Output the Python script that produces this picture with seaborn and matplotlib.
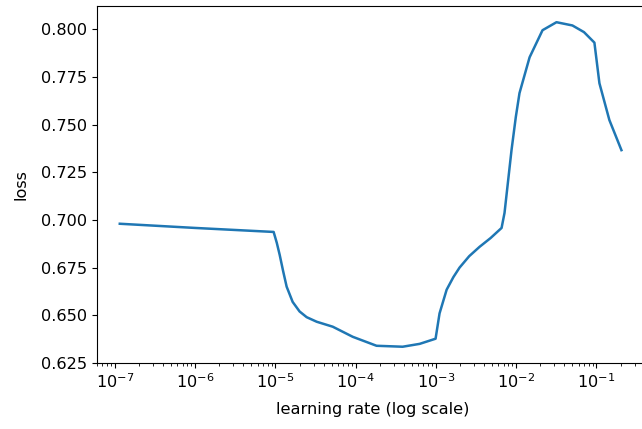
import numpy as np
import pandas as pd
import seaborn as sns
import matplotlib.pyplot as plt

# learning rate finder result
lr = [1.15e-7, 1.0e-6, 9.5e-6, 1.04e-5, 1.13e-5, 1.25e-5, 1.38e-5, 1.64e-5,
      2.0e-5, 2.45e-5, 3.27e-5, 5.18e-5, 9.2e-5, 1.82e-4, 3.85e-4, 6.27e-4,
      9.9e-4, 1.11e-3, 1.36e-3, 1.65e-3, 1.97e-3, 2.6e-3, 3.5e-3, 4.8e-3,
      6.58e-3, 7.16e-3, 8.75e-3, 9.9e-3, 1.10e-2, 1.47e-2, 2.13e-2, 3.18e-2,
      5.02e-2, 7.0e-2, 9.44e-2, 1.09e-1, 1.45e-1, 2.05e-1]
loss = [0.698, 0.6958, 0.6937, 0.688, 0.6817, 0.673, 0.665, 0.657,
        0.652, 0.649, 0.6466, 0.644, 0.6387, 0.634, 0.6335, 0.635,
        0.6377, 0.651, 0.6634, 0.670, 0.675, 0.681, 0.6859, 0.6905,
        0.6958, 0.7037, 0.7366, 0.754, 0.7665, 0.7853, 0.7995, 0.8037,
        0.802, 0.7985, 0.793, 0.7717, 0.7524, 0.7366]

df = pd.DataFrame({'lr': lr, 'loss': loss})

plt.rcParams['font.size'] = 11.6

fig = plt.figure(figsize=(6.42, 4.29), dpi=100)
ax = fig.add_axes([0.151, 0.154, 0.858, 0.832])

sns.lineplot(data=df, x='lr', y='loss', ax=ax, color='#1f77b4', linewidth=1.8)

ax.set_xscale('log')
ax.set_xlim(10 ** -7.224, 10 ** -0.36)
ax.set_ylim(0.625, 0.8122)
ax.set_yticks([0.625, 0.650, 0.675, 0.700, 0.725, 0.750, 0.775, 0.800])
ax.yaxis.set_major_formatter(plt.FormatStrFormatter('%.3f'))

# the reference is cropped on the right, so no right frame line shows
ax.spines['right'].set_visible(False)

ax.set_xlabel('learning rate (log scale)', labelpad=8)
ax.set_ylabel('loss', labelpad=9)

fig.savefig('out.png', dpi=100)
